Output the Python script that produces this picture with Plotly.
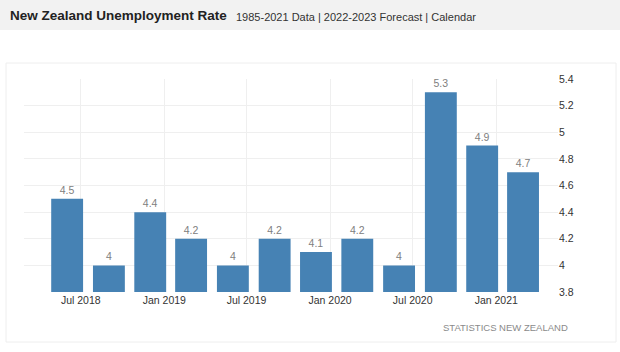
import plotly.graph_objects as go

# ---- data ----
quarters = ["2018-06-01", "2018-09-01", "2018-12-01", "2019-03-01", "2019-06-01", "2019-09-01",
            "2019-12-01", "2020-03-01", "2020-06-01", "2020-09-01", "2020-12-01", "2021-03-01"]
rates = [4.5, 4.0, 4.4, 4.2, 4.0, 4.2, 4.1, 4.2, 4.0, 5.3, 4.9, 4.7]
rate_labels = ["4.5", "4", "4.4", "4.2", "4", "4.2", "4.1", "4.2", "4", "5.3", "4.9", "4.7"]
title_text = "New Zealand Unemployment Rate"
subtitle_text = "1985-2021 Data | 2022-2023 Forecast | Calendar"
source_text = "STATISTICS NEW ZEALAND"

W, H = 620, 352
ML, MR, MT, MB = 24, 62, 79, 60
PW, PH = W - ML - MR, H - MT - MB


def px(x):
    return (x - ML) / PW


def py(y):
    return (H - MB - y) / PH


BAR = "#4682b4"
FONT = "Liberation Sans, Arial, sans-serif"

fig = go.Figure()
fig.add_trace(go.Bar(
    x=quarters, y=rates, text=rate_labels, textposition="outside",
    textfont=dict(color="#808080", size=10.5, family=FONT),
    marker=dict(color=BAR, line=dict(width=0)),
    cliponaxis=False, hoverinfo="skip",
))

fig.update_layout(
    width=W, height=H,
    margin=dict(l=ML, r=MR, t=MT, b=MB),
    paper_bgcolor="white", plot_bgcolor="white",
    bargap=0.22, showlegend=False,
    xaxis=dict(
        type="date", range=["2018-02-26", "2021-05-17"],
        tick0="2018-07-01", dtick="M6", tickformat="%b %Y",
        showgrid=True, gridcolor="#efefef", gridwidth=1,
        zeroline=False, showline=False, ticks="",
        tickfont=dict(size=10.5, color="#333333", family=FONT),
    ),
    yaxis=dict(
        range=[3.8, 5.4], dtick=0.2, tick0=3.8, side="right",
        showgrid=True, gridcolor="#efefef", gridwidth=1,
        zeroline=False, showline=False, ticks="",
        tickfont=dict(size=10.5, color="#333333", family=FONT),
    ),
    shapes=[
        dict(type="rect", xref="paper", yref="paper",
             x0=px(0), x1=px(W), y0=py(30), y1=py(0),
             fillcolor="#f2f2f2", line=dict(width=0), layer="below"),
        dict(type="rect", xref="paper", yref="paper",
             x0=px(6), x1=px(616), y0=py(342), y1=py(63),
             fillcolor="rgba(0,0,0,0)", line=dict(color="#eeeeee", width=1), layer="below"),
    ],
    annotations=[
        dict(text="<b>" + title_text + "</b>", xref="paper", yref="paper",
             x=px(8), y=py(16), xanchor="left", yanchor="middle", showarrow=False,
             font=dict(size=13.5, color="#222222", family=FONT)),
        dict(text=subtitle_text, xref="paper", yref="paper",
             x=px(234), y=py(17), xanchor="left", yanchor="middle", showarrow=False,
             font=dict(size=11, color="#333333", family=FONT)),
        dict(text=source_text, xref="paper", yref="paper",
             x=px(570), y=py(327), xanchor="right", yanchor="middle", showarrow=False,
             font=dict(size=9.5, color="#8a8a8a", family=FONT)),
    ],
)

fig.write_html("out.html")
